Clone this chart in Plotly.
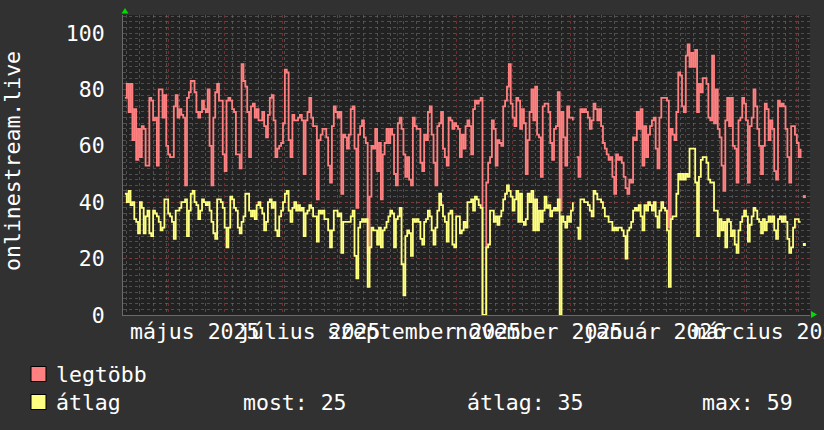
import pandas as pd
import plotly.graph_objects as go

# ---------------- data ----------------
start_date = "2025-03-09"

max_vals = [
    # Mar-May 2025
    77, 82, 72, 82, 62, 73, 55, 66, 56, 67, 66, 53, 53, 77, 76, 69, 70, 53, 80, 80,
    70, 78, 60, 57, 56, 56, 74, 78, 70, 73, 71, 70, 46, 77, 79, 83, 83, 79, 72, 70,
    72, 76, 73, 72, 80, 60, 46, 70, 79, 82, 76, 76, 57, 51, 76, 77, 76, 73, 72, 57,
    57, 52, 89, 83, 81, 72, 56, 74, 75, 70, 73, 69,
    # May-Aug 2025
    69, 72, 67, 63, 71, 77, 78, 69, 56, 59, 60, 61, 68, 87, 86, 62, 56, 71, 69, 69,
    70, 71, 69, 50, 69, 72, 77, 70, 67, 67, 41, 62, 64, 66, 66, 63, 53, 47, 67, 74,
    72, 70, 72, 43, 64, 63, 59, 64, 73, 74, 59, 38, 64, 67, 69, 63, 61, 22, 42, 60,
    59, 66, 51, 61, 41, 57, 61, 66, 61, 66, 64, 50, 46,
    # Aug-Oct 2025
    68, 70, 66, 57, 49, 56, 48, 46, 70, 67, 66, 66, 54, 51, 64, 62, 72, 74, 64, 54,
    46, 67, 68, 72, 59, 56, 53, 70, 69, 66, 68, 67, 66, 56, 64, 59, 67, 69, 67, 57,
    73, 76, 75, 76, 77, 0, 0, 47, 54, 56, 69, 66, 53, 62, 61, 60, 74, 76, 81, 89,
    75, 70, 67, 77, 76, 66, 73, 68, 50, 62, 72, 80, 69,
    # Oct-Dec 2025
    81, 64, 63, 49, 74, 75, 75, 72, 61, 55, 66, 67, 79, 37, 72, 63, 53, 74, 70, 70,
    69, None, 56, 49, 73, 72, 73, 72, 70, 66, 69, 75, 73, 69, 73, 67, 61, 59, 57, 55,
    56, 49, 43, 57, 55, 56, 54, 49, 45, 43, 48, 47, 63, 62, 72, 66, 73, 53, 67, 56,
    64, 67, 69, 70, 59, 52, 70, 77, 77, 77, 76, 31, 66, 64,
    # Dec 2025 - Mar 2026
    62, 72, 86, 85, 74, 72, 92, 96, 88, 93, 88, 94, 72, 82, 79, 84, 84, 82, 70, 69,
    92, 68, 80, 66, 63, 53, 44, 69, 77, 67, 77, 60, 59, 47, 69, 70, 77, 75, 69, 47,
    67, 70, 80, 74, 66, 60, 50, 60, 75, 73, 62, 69, 66, 51, 48, 76, 74, 75, 74, 66,
    56, 47, 67, 67, 64, 61, 56, 59,
    None, 42,
]

avg_vals = [
    43, 40, 44, 39, 40, 34, 33, 29, 40, 38, 29, 35, 37, 29, 28, 37, 36, 35, 33, 30,
    31, 41, 41, 36, 35, 33, 27, 37, 37, 38, 40, 40, 41, 28, 37, 43, 44, 40, 39, 34,
    37, 41, 40, 39, 40, 37, 33, 29, 27, 41, 41, 40, 38, 31, 24, 31, 42, 41, 38, 37,
    31, 29, 33, 35, 43, 43, 37, 35, 37, 34, 39, 40,
    38, 36, 30, 33, 40, 41, 38, 40, 30, 28, 35, 37, 40, 43, 44, 37, 33, 38, 40, 37,
    39, 37, 38, 28, 36, 37, 39, 38, 35, 35, 26, 37, 36, 37, 34, 34, 30, 24, 30, 37,
    37, 35, 36, 22, 33, 33, 33, 33, 35, 37, 21, 13, 31, 33, 34, 33, 34, 10, 24, 31,
    30, 30, 25, 31, 24, 30, 31, 33, 35, 37, 36, 24, 34,
    35, 38, 18, 7, 28, 30, 29, 21, 34, 33, 34, 33, 27, 25, 33, 34, 37, 35, 30, 25,
    31, 37, 43, 39, 35, 33, 26, 36, 37, 25, 24, 35, 35, 29, 30, 33, 31, 40, 40, 41,
    37, 42, 41, 39, 38, 0, 0, 24, 25, 37, 37, 33, 35, 32, 35, 37, 41, 43, 46, 44,
    42, 37, 41, 44, 33, 43, 33, 32, 34, 43, 40, 44, 30,
    41, 30, 37, 33, 37, 42, 38, 39, 35, 37, 38, 37, 41, 0, 35, 33, 31, 35, 33, 37,
    40, None, 31, 27, 41, 41, 40, 40, 39, 37, 35, 44, 43, 41, 41, 40, 38, 35, 35, 33,
    33, 30, 31, 30, 31, 31, 30, 28, 20, 30, 31, 33, 37, 38, 37, 39, 35, 30, 39, 37,
    40, 39, 37, 40, 35, 31, 37, 40, 38, 37, 30, 10, 34, 35,
    35, 43, 50, 48, 50, 48, 50, 49, 59, 59, 59, 47, 28, 49, 55, 56, 56, 54, 48, 47,
    47, 37, 37, 28, 34, 30, 33, 24, 34, 33, 28, 30, 25, 22, 30, 33, 35, 37, 35, 26,
    32, 35, 38, 37, 34, 33, 29, 34, 30, 33, 35, 33, 35, 30, 27, 34, 35, 33, 35, 33,
    27, 22, 24, 31, 34, 34, 33, 33,
    None, 25,
]

series_names = ["legtöbb", "átlag"]
series_colors = ["#FF8080", "#FFFF80"]

x_label_dates = ["2025-04-15", "2025-06-15", "2025-08-15", "2025-10-15", "2025-12-15", "2026-02-15"]
x_label_text = ["május 2025", "július 2025", "szeptember 2025", "november 2025", "január 2026", "március 2026"]
x_range = ["2025-03-08", "2026-03-08"]
y_range = [0, 106.4]
y_ticks = [0, 20, 40, 60, 80, 100]
y_title = "onlinestream.live"

assert len(max_vals) == len(avg_vals), (len(max_vals), len(avg_vals))

# ---------------- layout constants ----------------
W, H = 824, 430
L, R, T, B = 123, 810, 15, 315   # plot area in px
FONT = "DejaVu Sans Mono"
FS = 21.5
BG = "#313131"
CANVAS = "#222222"
MGRID = "rgba(150,45,45,0.75)"
GRID = "rgba(110,110,110,0.6)"
TXT = "#ffffff"


def px(x):
    return (x - L) / (R - L)


def py(y):
    return (B - y) / (B - T)


dates = pd.date_range(start_date, periods=len(max_vals), freq="D")

fig = go.Figure()
for vals, name, col in zip([max_vals, avg_vals], series_names, series_colors):
    fig.add_trace(go.Scatter(
        x=dates, y=vals, mode="lines", name=name,
        line=dict(color=col, width=1.8, shape="hv"),
        connectgaps=False, showlegend=False, hoverinfo="skip",
    ))
    # isolated single samples (neighbours missing) drawn as tiny dots
    iso_x, iso_y = [], []
    for i, v in enumerate(vals):
        if v is None:
            continue
        pn = i == 0 or vals[i - 1] is None
        nn = i == len(vals) - 1 or vals[i + 1] is None
        if pn and nn:
            iso_x.append(dates[i])
            iso_y.append(v)
    if iso_x:
        fig.add_trace(go.Scatter(
            x=iso_x, y=iso_y, mode="markers",
            marker=dict(symbol="square", size=3, color=col, line=dict(width=0)),
            showlegend=False, hoverinfo="skip",
        ))

fig.update_layout(
    width=W, height=H,
    margin=dict(l=L, r=W - R, t=T, b=H - B, pad=0),
    paper_bgcolor=BG, plot_bgcolor=CANVAS,
    font=dict(family=FONT, size=FS, color=TXT),
    showlegend=False,
    xaxis=dict(
        type="date", range=x_range, showticklabels=False, ticks="",
        showgrid=True, gridcolor=MGRID, griddash="dot", gridwidth=1,
        dtick="M1", tick0="2025-04-01",
        minor=dict(dtick=7 * 86400000, tick0="2025-03-10", showgrid=True,
                   gridcolor=GRID, griddash="dot", gridwidth=1),
        showline=True, linecolor="#6a6a6a", linewidth=1, zeroline=False,
        fixedrange=True, automargin=False,
    ),
    yaxis=dict(
        range=y_range, tickvals=y_ticks, showgrid=True, gridcolor=MGRID,
        griddash="dot", gridwidth=1,
        minor=dict(dtick=2, showgrid=True, gridcolor=GRID, griddash="dot", gridwidth=1),
        ticks="outside", ticklen=13, tickcolor="rgba(0,0,0,0)",
        tickfont=dict(family=FONT, size=FS, color=TXT),
        showline=True, linecolor="#6a6a6a", linewidth=1, zeroline=False,
        fixedrange=True, automargin=False,
    ),
)

annotations = []
for d, t in zip(x_label_dates, x_label_text):
    annotations.append(dict(x=d, y=0, xref="x", yref="paper", text=t, showarrow=False,
                            xanchor="center", yanchor="top", yshift=-2,
                            font=dict(family=FONT, size=FS, color=TXT)))

annotations.append(dict(x=px(12), y=py(161), xref="paper", yref="paper", text=y_title,
                        textangle=-90, showarrow=False, xanchor="center", yanchor="middle",
                        font=dict(family=FONT, size=FS, color=TXT)))

# legend
valid_avg = [v for v in avg_vals if v is not None]
cur = valid_avg[-1]
mean = sum(valid_avg) / len(valid_avg)
mx = max(valid_avg)
legend_rows = [(series_names[0], series_colors[0], 374, None),
               (series_names[1], series_colors[1], 402,
                ["most: %.0f" % cur, "átlag: %.0f" % mean, "max: %.0f" % mx])]
stat_x = [241, 465, 700]
shapes = []
for name, col, yc, stats in legend_rows:
    shapes.append(dict(type="rect", xref="paper", yref="paper",
                       x0=px(31), x1=px(46), y0=py(yc - 7.5), y1=py(yc + 7.5),
                       fillcolor=col, line=dict(color="#000000", width=1)))
    annotations.append(dict(x=px(54), y=py(yc), xref="paper", yref="paper", text=name,
                            showarrow=False, xanchor="left", yanchor="middle",
                            font=dict(family=FONT, size=FS, color=TXT)))
    if stats:
        for sx, st in zip(stat_x, stats):
            annotations.append(dict(x=px(sx), y=py(yc), xref="paper", yref="paper", text=st,
                                    showarrow=False, xanchor="left", yanchor="middle",
                                    font=dict(family=FONT, size=FS, color=TXT)))

# axis arrows
up = "M %f %f L %f %f L %f %f Z" % (px(121.5), py(13.5), px(128.5), py(13.5), px(125), py(8))
right = "M %f %f L %f %f L %f %f Z" % (px(811), py(311), px(811), py(318), px(817), py(314.5))
for p in (up, right):
    shapes.append(dict(type="path", xref="paper", yref="paper", path=p,
                       fillcolor="#00dd00", line=dict(color="#00dd00", width=0)))

fig.update_layout(annotations=annotations, shapes=shapes)
fig.write_html(
    "out.html",
    config={"displayModeBar": False, "staticPlot": True},
    post_script="document.body.style.margin='0px';document.body.style.overflow='hidden';",
)
